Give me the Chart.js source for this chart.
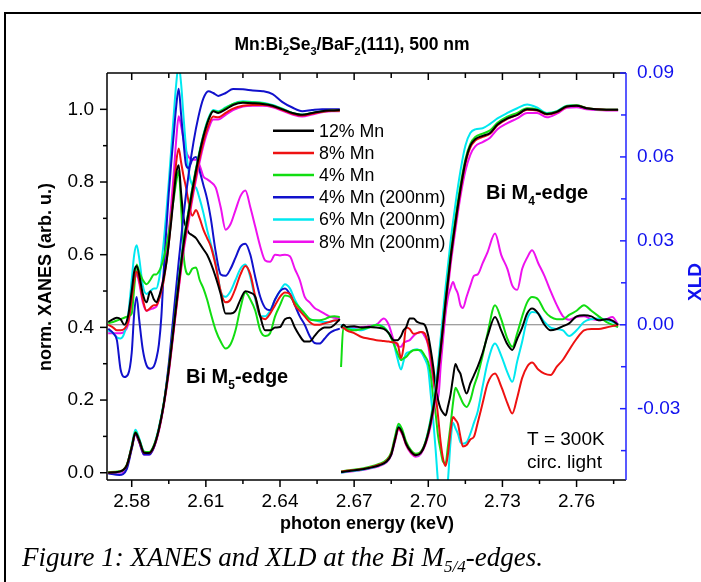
<!DOCTYPE html>
<html><head><meta charset="utf-8">
<script src="https://cdn.jsdelivr.net/npm/chart.js@4/dist/chart.umd.min.js"></script>
<style>
html,body{margin:0;padding:0;background:#fff;overflow:hidden;width:701px;height:582px;}
#wrap{position:relative;width:701px;height:582px;overflow:hidden;}
#frame{position:absolute;left:4px;top:12px;width:760px;height:640px;border:2px solid #000;box-sizing:border-box;}
canvas{position:absolute;left:0;top:0;}
#cap{position:absolute;left:22px;top:542px;font-family:"Liberation Serif","Times New Roman",serif;font-style:italic;font-size:27px;white-space:nowrap;color:#000;}
#cap sub{font-size:17px;vertical-align:-6px;line-height:0;}
</style></head>
<body><div id="wrap"><div id="frame"></div><canvas id="c" width="701" height="582"></canvas>
<div id="cap">Figure 1: XANES and XLD at the Bi M<sub>5/4</sub>-edges.</div></div>
<script>
// ---------- data ----------
const SERIES = ['12% Mn','8% Mn','4% Mn','4% Mn (200nm)','6% Mn (200nm)','8% Mn (200nm)'];
const X_TICKS = [2.58,2.61,2.64,2.67,2.70,2.73,2.76];
const X_MINOR = [2.595,2.625,2.655,2.685,2.715,2.745,2.775];
const Y_TICKS = [0,0.2,0.4,0.6,0.8,1.0];
const Y_MINOR = [0.1,0.3,0.5,0.7,0.9];
const Y2_TICKS = [-0.03,0,0.03,0.06,0.09];
const Y2_MINOR = [-0.045,-0.015,0.015,0.045,0.075];

// energy grids (keV)
const E5_XANES = [2.5705,2.575,2.578,2.580,2.5815,2.583,2.585,2.587,2.589,2.591,2.593,2.595,2.597,2.599,2.601,2.603,2.605,2.607,2.609,2.611,2.613,2.615,2.618,2.621,2.625,2.629,2.633,2.637,2.641,2.645,2.649,2.653,2.657,2.661,2.6642];
const E4_XANES = [2.6647,2.668,2.672,2.676,2.680,2.683,2.685,2.6865,2.688,2.6895,2.691,2.693,2.695,2.697,2.699,2.701,2.703,2.705,2.707,2.709,2.711,2.713,2.715,2.717,2.719,2.722,2.725,2.728,2.732,2.736,2.740,2.744,2.748,2.752,2.756,2.760,2.764,2.768,2.772,2.7768];
const E5_XLD = [2.5705,2.5725,2.574,2.5755,2.577,2.5785,2.580,2.581,2.582,2.583,2.5845,2.586,2.5875,2.589,2.590,2.591,2.592,2.593,2.594,2.595,2.596,2.597,2.598,2.599,2.600,2.601,2.602,2.603,2.6045,2.606,2.6075,2.609,2.6105,2.612,2.614,2.616,2.618,2.620,2.622,2.624,2.626,2.628,2.630,2.632,2.634,2.636,2.638,2.640,2.642,2.644,2.646,2.648,2.650,2.652,2.654,2.656,2.658,2.660,2.662,2.6642];
const E4_XLD = [2.6647,2.6656,2.667,2.670,2.673,2.676,2.679,2.682,2.684,2.686,2.6875,2.689,2.690,2.691,2.6925,2.694,2.6955,2.697,2.6985,2.700,2.701,2.702,2.703,2.704,2.705,2.706,2.707,2.708,2.709,2.710,2.711,2.712,2.713,2.714,2.7155,2.717,2.7185,2.720,2.722,2.724,2.727,2.7295,2.732,2.734,2.736,2.738,2.740,2.742,2.7445,2.747,2.7495,2.752,2.7545,2.757,2.760,2.763,2.766,2.769,2.772,2.7745,2.7768];

// XANES, Bi M5 edge (left axis)
const xanesM5_12 = [0.0,0.003,0.02,0.07,0.11,0.09,0.055,0.054,0.073,0.12,0.19,0.285,0.40,0.52,0.63,0.715,0.795,0.865,0.925,0.97,0.995,0.99,1.0,1.012,1.018,1.017,1.015,1.01,1.0,0.99,0.985,0.99,0.995,0.997,0.998];
const xanesM5_8 = [0.0,0.003,0.02,0.07,0.108,0.088,0.055,0.054,0.072,0.118,0.188,0.28,0.395,0.51,0.62,0.70,0.78,0.85,0.91,0.955,0.98,0.978,0.99,1.002,1.01,1.012,1.012,1.008,0.998,0.988,0.983,0.988,0.993,0.996,0.996];
const xanesM5_4 = [0.002,0.004,0.022,0.072,0.112,0.092,0.058,0.057,0.076,0.122,0.192,0.288,0.405,0.525,0.635,0.72,0.80,0.868,0.928,0.972,0.996,0.993,1.003,1.015,1.02,1.019,1.017,1.011,1.001,0.99,0.985,0.99,0.994,0.997,0.997];
const xanesM5_4thin = [-0.002,-0.006,0.01,0.065,0.105,0.085,0.05,0.05,0.07,0.12,0.19,0.30,0.44,0.58,0.71,0.82,0.91,0.98,1.03,1.05,1.045,1.037,1.045,1.056,1.055,1.052,1.05,1.042,1.02,1.005,0.995,0.998,1.0,1.0,1.0];
const xanesM5_6thin = [0.0,0.002,0.02,0.075,0.118,0.095,0.058,0.055,0.075,0.125,0.195,0.29,0.41,0.53,0.64,0.72,0.80,0.87,0.93,0.975,0.998,0.995,1.005,1.015,1.022,1.02,1.018,1.012,1.002,0.99,0.985,0.99,0.995,0.997,0.997];
const xanesM5_8thin = [0.0,0.0,0.015,0.068,0.105,0.085,0.05,0.05,0.07,0.115,0.185,0.275,0.39,0.505,0.61,0.69,0.77,0.84,0.90,0.945,0.972,0.972,0.985,0.998,1.008,1.01,1.01,1.006,0.996,0.986,0.98,0.986,0.992,0.995,0.995];

// XANES, Bi M4 edge (left axis)
const xanesM4_12 = [0.002,0.005,0.008,0.013,0.02,0.03,0.05,0.09,0.125,0.11,0.08,0.058,0.048,0.055,0.085,0.14,0.22,0.34,0.47,0.59,0.69,0.78,0.855,0.90,0.918,0.927,0.935,0.958,0.975,0.985,1.0,0.998,0.987,0.993,1.008,1.01,1.003,1.0,0.999,0.999];
const xanesM4_8 = [0.003,0.006,0.009,0.014,0.022,0.032,0.052,0.09,0.122,0.108,0.079,0.057,0.048,0.055,0.084,0.138,0.215,0.335,0.465,0.585,0.685,0.775,0.85,0.895,0.914,0.924,0.933,0.956,0.974,0.985,0.999,0.997,0.986,0.992,1.007,1.01,1.003,1.0,0.999,0.999];
const xanesM4_4 = [0.004,0.007,0.01,0.016,0.024,0.035,0.056,0.098,0.135,0.118,0.086,0.062,0.052,0.058,0.088,0.145,0.225,0.345,0.478,0.598,0.7,0.79,0.862,0.905,0.924,0.933,0.942,0.963,0.98,0.99,1.003,1.0,0.988,0.994,1.009,1.011,1.004,1.0,0.999,0.999];
const xanesM4_6thin = [0.0,0.004,0.007,0.012,0.02,0.03,0.052,0.094,0.13,0.114,0.082,0.058,0.048,0.056,0.088,0.15,0.24,0.37,0.51,0.635,0.74,0.83,0.9,0.935,0.945,0.948,0.96,0.975,0.99,1.003,1.013,1.005,0.99,0.995,1.01,1.011,1.003,1.0,0.999,0.999];
const xanesM4_8thin = [0.0,0.003,0.006,0.011,0.018,0.028,0.048,0.085,0.12,0.105,0.076,0.053,0.044,0.052,0.08,0.13,0.205,0.32,0.45,0.57,0.67,0.76,0.83,0.875,0.898,0.91,0.922,0.945,0.962,0.975,0.99,0.99,0.978,0.988,1.004,1.006,1.0,0.998,0.997,0.997];

// XLD, Bi M5 edge (right axis)
const xldM5_12 = [0.001,0.002,0.0025,0.002,0.0,0.003,0.012,0.019,0.021,0.018,0.011,0.008,0.012,0.009,0.008,0.010,0.013,0.017,0.022,0.029,0.037,0.046,0.054,0.057,0.047,0.038,0.035,0.033,0.032,0.031,0.029,0.027,0.025,0.022,0.017,0.011,0.004,0.004,0.005,0.009,0.012,0.0115,0.010,0.003,-0.002,-0.002,-0.001,-0.0008,0.002,0.0025,-0.001,-0.004,-0.006,-0.006,-0.004,-0.002,-0.001,-0.001,0.0,0.002];
const xldM5_8 = [0.0,-0.001,-0.002,-0.002,-0.0015,0.001,0.009,0.016,0.019,0.016,0.009,0.005,0.006,0.007,0.007,0.009,0.012,0.016,0.022,0.029,0.038,0.048,0.058,0.063,0.058,0.053,0.049,0.044,0.039,0.041,0.038,0.034,0.031,0.028,0.021,0.012,0.008,0.009,0.013,0.018,0.021,0.018,0.010,0.003,0.002,0.004,0.007,0.010,0.0115,0.011,0.007,0.005,0.003,0.001,0.0,0.0,0.0005,0.001,0.0015,0.0016];
const xldM5_4 = [0.0006,0.001,0.0015,0.002,0.0025,0.003,0.004,0.013,0.0215,0.019,0.016,0.0145,0.016,0.018,0.018,0.019,0.021,0.024,0.028,0.033,0.039,0.045,0.051,0.055,0.042,0.025,0.019,0.018,0.020,0.0205,0.016,0.013,0.009,0.004,-0.002,-0.006,-0.0085,-0.007,-0.002,0.006,0.0115,0.009,0.005,-0.002,-0.004,-0.003,0.003,0.007,0.0105,0.010,0.008,0.006,0.004,0.002,0.0016,0.0016,0.002,0.0028,0.003,0.0028];
const xldM5_4thin = [-0.0014,-0.003,-0.0055,-0.016,-0.0187,-0.0178,-0.010,0.004,0.0099,0.002,-0.009,-0.0145,-0.0157,-0.0148,-0.012,-0.007,0.003,0.020,0.034,0.047,0.058,0.068,0.078,0.0844,0.075,0.065,0.057,0.056,0.059,0.060,0.055,0.050,0.045,0.038,0.026,0.018,0.0175,0.020,0.024,0.028,0.029,0.025,0.017,0.010,0.006,0.0052,0.009,0.012,0.013,0.011,0.007,0.003,0.0,-0.004,-0.0065,-0.0067,-0.005,-0.003,-0.002,-0.0014];
const xldM5_6thin = [-0.002,-0.003,-0.0045,-0.0049,-0.003,0.003,0.016,0.025,0.0284,0.024,0.014,0.011,0.012,0.013,0.013,0.016,0.022,0.030,0.040,0.051,0.063,0.075,0.086,0.093,0.086,0.074,0.063,0.055,0.050,0.049,0.045,0.040,0.034,0.029,0.022,0.012,0.010,0.012,0.016,0.020,0.0215,0.017,0.009,0.003,0.003,0.005,0.009,0.012,0.0145,0.013,0.009,0.006,0.004,0.002,0.0016,0.0012,0.001,0.001,0.0015,0.0016];
const xldM5_8thin = [-0.003,-0.003,-0.003,-0.003,-0.0025,0.0,0.008,0.015,0.018,0.015,0.008,0.005,0.0055,0.006,0.0065,0.009,0.013,0.018,0.025,0.033,0.043,0.054,0.066,0.0745,0.071,0.066,0.062,0.060,0.059,0.059,0.057,0.053,0.052,0.051,0.049,0.042,0.034,0.036,0.041,0.046,0.048,0.042,0.035,0.028,0.023,0.0225,0.025,0.0248,0.025,0.0245,0.020,0.016,0.010,0.008,0.006,0.005,0.004,0.003,0.0025,0.0022];

// XLD, Bi M4 edge (right axis)
const xldM4_12 = [-0.001,0.0,-0.0008,-0.0005,-0.001,-0.0008,-0.001,-0.0015,-0.003,-0.0055,-0.0055,-0.004,-0.002,-0.001,0.0022,0.0022,0.001,0.0005,0.0,-0.004,-0.009,-0.015,-0.022,-0.027,-0.030,-0.0315,-0.0324,-0.029,-0.025,-0.019,-0.014,-0.016,-0.0175,-0.021,-0.0246,-0.021,-0.018,-0.015,-0.010,-0.004,0.0028,-0.002,-0.007,-0.009,-0.005,-0.001,0.004,0.0058,0.004,0.0,-0.002,-0.0015,-0.0005,0.0005,0.003,0.0034,0.003,0.0016,0.002,0.0015,0.0];
const xldM4_8 = [-0.0008,-0.001,-0.002,-0.003,-0.0044,-0.005,-0.0055,-0.0058,-0.006,-0.0063,-0.0067,-0.012,-0.008,-0.001,-0.0015,-0.0032,-0.003,-0.0026,-0.003,-0.007,-0.011,-0.018,-0.025,-0.033,-0.042,-0.048,-0.0505,-0.046,-0.038,-0.033,-0.034,-0.0355,-0.040,-0.0435,-0.043,-0.041,-0.040,-0.035,-0.028,-0.021,-0.0174,-0.022,-0.028,-0.0317,-0.026,-0.019,-0.015,-0.0135,-0.016,-0.0175,-0.018,-0.015,-0.0125,-0.009,-0.005,-0.002,-0.0015,-0.0015,-0.001,-0.0005,0.0];
const xldM4_4 = [-0.0151,-0.001,-0.0015,-0.002,-0.0015,-0.001,0.0,-0.001,-0.003,-0.0067,-0.010,-0.0127,-0.012,-0.0115,-0.010,-0.0091,-0.009,-0.0091,-0.011,-0.0135,-0.018,-0.026,-0.032,-0.040,-0.045,-0.049,-0.0495,-0.043,-0.036,-0.028,-0.0225,-0.024,-0.026,-0.028,-0.0294,-0.027,-0.022,-0.018,-0.011,-0.003,0.007,0.002,-0.005,-0.0079,-0.003,0.003,0.008,0.0099,0.009,0.005,0.0028,0.002,0.002,0.0035,0.005,0.007,0.005,0.003,0.001,0.0,-0.0008];
const xldM4_6thin = [0.0,-0.0005,-0.001,-0.0015,-0.002,-0.001,0.0,-0.0008,-0.003,-0.0067,-0.012,-0.016,-0.013,-0.0103,-0.0097,-0.009,-0.0088,-0.0097,-0.012,-0.016,-0.025,-0.034,-0.045,-0.057,-0.065,-0.066,-0.063,-0.055,-0.042,-0.035,-0.037,-0.039,-0.042,-0.0425,-0.042,-0.039,-0.035,-0.031,-0.022,-0.0135,-0.0067,-0.011,-0.017,-0.0204,-0.013,-0.006,0.002,0.0046,0.004,0.001,-0.001,-0.0015,-0.002,-0.004,-0.002,0.001,0.002,0.0022,0.0018,0.001,0.0];
const xldM4_8thin = [-0.001,-0.001,-0.001,-0.001,-0.0008,-0.0005,0.0,0.0022,0.0,-0.0055,-0.0075,-0.0079,-0.0065,-0.006,-0.0055,-0.004,-0.003,-0.0026,-0.004,-0.0075,-0.014,-0.020,-0.025,-0.0264,-0.015,-0.005,0.004,0.010,0.013,0.0153,0.013,0.011,0.007,0.006,0.010,0.014,0.0175,0.018,0.022,0.026,0.0326,0.025,0.020,0.014,0.0125,0.020,0.024,0.0266,0.022,0.0175,0.012,0.007,0.003,0.0018,0.0028,0.003,0.002,0.0016,0.002,0.0028,0.0];

const XANES_M5 = [xanesM5_12,xanesM5_8,xanesM5_4,xanesM5_4thin,xanesM5_6thin,xanesM5_8thin];
const XANES_M4 = [xanesM4_12,xanesM4_8,xanesM4_4,null,xanesM4_6thin,xanesM4_8thin];
const XLD_M5 = [xldM5_12,xldM5_8,xldM5_4,xldM5_4thin,xldM5_6thin,xldM5_8thin];
const XLD_M4 = [xldM4_12,xldM4_8,xldM4_4,null,xldM4_6thin,xldM4_8thin];

// ---------- styles ----------
const COLORS = ['#000000','#ee1111','#11dd11','#1111cc','#00e8f0','#ee11ee'];
const FONT = '"Liberation Sans", Arial, Helvetica, sans-serif';
const AXIS_BLUE = '#2222ff';

function seg(E, V){ const n=Math.min(E.length,V.length); const p=[]; for(let i=0;i<n;i++) p.push({x:E[i],y:V[i]}); return p; }
function joined(E1,V1,E2,V2){
  const p = seg(E1,V1);
  if (V2){ p.push({x:(E1[E1.length-1]+E2[0])/2, y:null}); p.push(...seg(E2,V2)); }
  return p;
}

const datasets = [];
SERIES.forEach((name,i)=>{
  datasets.push({label:name+' XANES', data:joined(E5_XANES,XANES_M5[i],E4_XANES,XANES_M4[i]), yAxisID:'y',
    borderColor:COLORS[i], borderWidth:2, pointRadius:0, fill:false, cubicInterpolationMode:'monotone', spanGaps:false});
});
SERIES.forEach((name,i)=>{
  datasets.push({label:name+' XLD', data:joined(E5_XLD,XLD_M5[i],E4_XLD,XLD_M4[i]), yAxisID:'y2',
    borderColor:COLORS[i], borderWidth:2, pointRadius:0, fill:false, cubicInterpolationMode:'monotone', spanGaps:false});
});

function drawRich(ctx, parts, x, y, align, size, weight, color){
  const sub = Math.round(size*0.62);
  let w = 0;
  const ws = parts.map(([t,s])=>{ ctx.font = `${weight} ${s?sub:size}px ${FONT}`; const m = ctx.measureText(t).width; w += m; return m; });
  let cx = align==='center' ? x - w/2 : x;
  ctx.fillStyle = color; ctx.textAlign='left'; ctx.textBaseline='alphabetic';
  parts.forEach(([t,s],i)=>{ ctx.font = `${weight} ${s?sub:size}px ${FONT}`; ctx.fillText(t, cx, s ? y + size*0.3 : y); cx += ws[i]; });
}

const framePlugin = {
  id:'frame',
  beforeDatasetsDraw(chart){
    const {ctx, chartArea:a, scales:{y2}} = chart;
    const y0 = y2.getPixelForValue(0);
    ctx.save(); ctx.strokeStyle='#808080'; ctx.lineWidth=1;
    ctx.beginPath(); ctx.moveTo(a.left,y0); ctx.lineTo(a.right,y0); ctx.stroke(); ctx.restore();
  },
  afterDraw(chart){
    const {ctx, chartArea:a, scales:{x,y,y2}} = chart;
    const L = (x1,y1,x2,y2_)=>{ ctx.beginPath(); ctx.moveTo(x1,y1); ctx.lineTo(x2,y2_); ctx.stroke(); };
    ctx.save();
    ctx.lineWidth = 1.5; ctx.strokeStyle = '#000';
    L(a.left,a.top,a.right,a.top); L(a.left,a.top,a.left,a.bottom); L(a.left,a.bottom,a.right,a.bottom);
    X_TICKS.forEach(v=>{ const px=x.getPixelForValue(v); L(px,a.bottom,px,a.bottom+7); L(px,a.top,px,a.top+7); });
    X_MINOR.forEach(v=>{ const px=x.getPixelForValue(v); L(px,a.bottom,px,a.bottom+4); L(px,a.top,px,a.top+5); });
    Y_TICKS.forEach(v=>{ const py=y.getPixelForValue(v); L(a.left-7,py,a.left,py); });
    Y_MINOR.forEach(v=>{ const py=y.getPixelForValue(v); L(a.left-4,py,a.left,py); });
    ctx.strokeStyle = AXIS_BLUE;
    L(a.right,a.top,a.right,a.bottom);
    Y2_TICKS.forEach(v=>{ const py=y2.getPixelForValue(v); L(a.right-6,py,a.right,py); });
    Y2_MINOR.forEach(v=>{ const py=y2.getPixelForValue(v); L(a.right-5,py,a.right,py); });
    ctx.restore();

    // texts
    ctx.save();
    drawRich(ctx, [['Mn:Bi',0],['2',1],['Se',0],['3',1],['/BaF',0],['2',1],['(111), 500 nm',0]], 352, 50, 'center', 17.5, 'bold', '#000');
    drawRich(ctx, [['Bi M',0],['5',1],['-edge',0]], 186, 383, 'left', 20, 'bold', '#000');
    drawRich(ctx, [['Bi M',0],['4',1],['-edge',0]], 486, 199, 'left', 20, 'bold', '#000');
    ctx.font = `19px ${FONT}`; ctx.fillStyle='#000'; ctx.textAlign='left'; ctx.textBaseline='alphabetic';
    ctx.fillText('T = 300K', 527, 445);
    ctx.fillText('circ. light', 527, 468);
    // legend
    SERIES.forEach((name,i)=>{
      const ly = 130.7 + 22.2*i;
      ctx.strokeStyle = COLORS[i]; ctx.lineWidth = 2.5;
      ctx.beginPath(); ctx.moveTo(273,ly); ctx.lineTo(314,ly); ctx.stroke();
      ctx.fillStyle='#000'; ctx.font = `17.8px ${FONT}`; ctx.textBaseline='middle';
      ctx.fillText(name, 319, ly+1);
    });
    // axis titles
    ctx.textBaseline='alphabetic'; ctx.textAlign='center';
    ctx.font = `bold 18px ${FONT}`; ctx.fillStyle='#000';
    ctx.fillText('photon energy (keV)', 367, 529);
    ctx.save(); ctx.translate(51, 277); ctx.rotate(-Math.PI/2); ctx.fillText('norm. XANES (arb. u.)', 0, 0); ctx.restore();
    ctx.save(); ctx.translate(696, 282); ctx.rotate(-Math.PI/2); ctx.fillStyle='#1111ee'; ctx.font = `bold 19px ${FONT}`; ctx.textBaseline='middle'; ctx.fillText('XLD', 0, 0); ctx.restore();
    ctx.restore();
  }
};

new Chart(document.getElementById('c'), {
  type:'line',
  data:{datasets},
  options:{
    responsive:false, animation:false, devicePixelRatio:1,
    layout:{padding:{top:73,left:0,right:0,bottom:0}},
    plugins:{legend:{display:false}, tooltip:{enabled:false}, title:{display:false}},
    scales:{
      x:{type:'linear', min:2.57, max:2.78,
        afterBuildTicks:s=>{ s.ticks = X_TICKS.map(v=>({value:v})); },
        afterFit:s=>{ s.height = 102; },
        ticks:{callback:v=>Number(v).toFixed(2), color:'#000', font:{family:FONT,size:19}, padding:10, maxRotation:0, autoSkip:false},
        grid:{display:false, drawTicks:false}, border:{display:false}},
      y:{type:'linear', position:'left', min:-0.02, max:1.1,
        afterBuildTicks:s=>{ s.ticks = Y_TICKS.map(v=>({value:v})); },
        afterFit:s=>{ s.width = 107; },
        ticks:{callback:v=>Number(v).toFixed(1), color:'#000', font:{family:FONT,size:19}, padding:13},
        grid:{display:false, drawTicks:false}, border:{display:false}},
      y2:{type:'linear', position:'right', min:-0.0555, max:0.09,
        afterBuildTicks:s=>{ s.ticks = Y2_TICKS.map(v=>({value:v})); },
        afterFit:s=>{ s.width = 75; },
        ticks:{callback:v=>Number(v).toFixed(2), color:'#1111ee', font:{family:FONT,size:19}, padding:11},
        grid:{display:false, drawTicks:false}, border:{display:false}}
    }
  },
  plugins:[framePlugin]
});
</script>
</body></html>
